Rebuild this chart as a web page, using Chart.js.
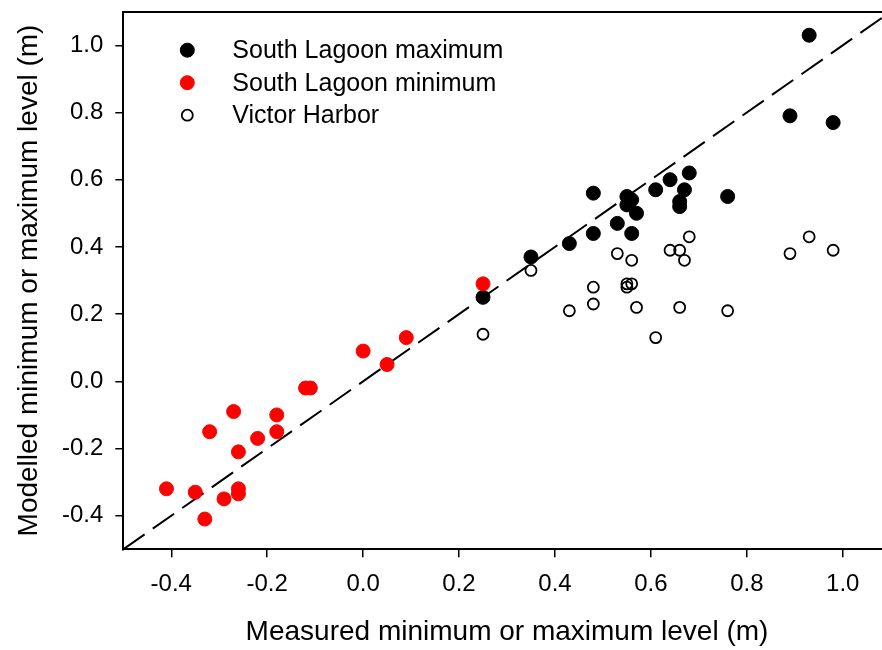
<!DOCTYPE html>
<html><head><meta charset="utf-8">
<script src="https://cdn.jsdelivr.net/npm/chart.js@4"></script>
<style>
html,body{margin:0;padding:0;overflow:hidden;background:#fff;width:882px;height:650px}
#wrap{position:absolute;left:0;top:0;width:900px;height:650px}
</style></head>
<body><div id="wrap"><canvas id="c"></canvas></div>
<script>
// Tick labels
const xTicks = [-0.4, -0.2, 0.0, 0.2, 0.4, 0.6, 0.8, 1.0];
const yTicks = [-0.4, -0.2, 0.0, 0.2, 0.4, 0.6, 0.8, 1.0];

// Series labels
const seriesNames = ['South Lagoon maximum', 'South Lagoon minimum', 'Victor Harbor'];

// South Lagoon maximum
const maxMeasured = [0.25,0.35,0.43,0.48,0.48,0.53,0.55,0.55,0.56,0.56,0.57,0.61,0.64,0.66,0.66,0.67,0.68,0.76,0.89,0.93,0.98];
const maxModelled = [0.25,0.37,0.41,0.56,0.44,0.47,0.55,0.525,0.54,0.44,0.50,0.57,0.60,0.535,0.52,0.57,0.62,0.55,0.79,1.03,0.77];

// South Lagoon minimum
const minMeasured = [-0.41,-0.35,-0.33,-0.32,-0.29,-0.27,-0.26,-0.26,-0.26,-0.22,-0.18,-0.18,-0.12,-0.11,0.00,0.05,0.09,0.25];
const minModelled = [-0.32,-0.33,-0.41,-0.15,-0.35,-0.09,-0.21,-0.32,-0.335,-0.17,-0.10,-0.15,-0.02,-0.02,0.09,0.05,0.13,0.29];

// Victor Harbor
const vhMeasured = [0.25,0.35,0.43,0.48,0.48,0.53,0.55,0.55,0.56,0.56,0.57,0.61,0.64,0.66,0.66,0.67,0.68,0.76,0.89,0.93,0.98];
const vhModelled = [0.14,0.33,0.21,0.28,0.23,0.38,0.29,0.28,0.29,0.36,0.22,0.13,0.39,0.39,0.22,0.36,0.43,0.21,0.38,0.43,0.39];

// 1:1 reference line
const oneToOne = [-0.5, 1.1];

const FONT = '"Liberation Sans", Arial, sans-serif';
const pts = (xs, ys) => xs.map((x, i) => ({x: x, y: ys[i]}));

const insideLegend = {
  id: 'insideLegend',
  afterDraw(chart) {
    const {ctx, chartArea: a} = chart;
    ctx.save();
    ctx.font = '25px ' + FONT;
    ctx.textBaseline = 'middle';
    ctx.textAlign = 'left';
    let row = 0;
    chart.data.datasets.forEach(ds => {
      if (!ds.inLegend) return;
      const cx = a.left + 64, cy = a.top + 38.5 + row * 32.5;
      ctx.beginPath();
      ctx.arc(cx, cy, ds.pointRadius, 0, Math.PI * 2);
      ctx.fillStyle = ds.backgroundColor;
      ctx.fill();
      ctx.lineWidth = ds.borderWidth;
      ctx.strokeStyle = ds.borderColor;
      ctx.stroke();
      ctx.fillStyle = '#000';
      ctx.fillText(ds.label, a.left + 109, cy + 1);
      row++;
    });
    ctx.restore();
  }
};

const frame = {
  id: 'frame',
  afterDraw(chart) {
    const {ctx, chartArea: a} = chart;
    ctx.save();
    ctx.strokeStyle = '#000';
    ctx.lineWidth = 2;
    ctx.beginPath();
    ctx.moveTo(a.left - 1, Math.round(a.top));
    ctx.lineTo(a.right + 1, Math.round(a.top));
    ctx.stroke();
    ctx.restore();
  }
};

new Chart(document.getElementById('c'), {
  type: 'scatter',
  data: {
    datasets: [
      {label: seriesNames[0], data: pts(maxMeasured, maxModelled), inLegend: true, order: 3,
       backgroundColor: '#000000', borderColor: '#000000', borderWidth: 1, pointRadius: 7},
      {label: seriesNames[1], data: pts(minMeasured, minModelled), inLegend: true, order: 1,
       backgroundColor: '#ff0000', borderColor: '#ff0000', borderWidth: 1, pointRadius: 7},
      {label: seriesNames[2], data: pts(vhMeasured, vhModelled), inLegend: true, order: 2,
       backgroundColor: 'rgba(255,255,255,0)', borderColor: '#000000', borderWidth: 1.8, pointRadius: 5.5},
      {label: '1:1', data: pts(oneToOne, oneToOne), order: 4, showLine: true, pointRadius: 0,
       borderColor: '#000000', borderWidth: 2, borderDash: [26, 10], backgroundColor: '#000000'}
    ]
  },
  options: {
    responsive: true,
    maintainAspectRatio: false,
    animation: false,
    events: [],
    layout: {padding: {top: 11.7, right: 9.3, bottom: 0, left: 0}},
    plugins: {legend: {display: false}, tooltip: {enabled: false}},
    scales: {
      x: {
        type: 'linear', position: 'bottom', min: -0.5, max: 1.1,
        afterBuildTicks: s => { s.ticks = xTicks.map(v => ({value: v})); },
        afterFit: s => { s.height = 100.7; s.paddingLeft = 0; s.paddingRight = 0; },
        grid: {drawOnChartArea: false, drawTicks: true, tickLength: 8, color: '#000', lineWidth: 1.5},
        border: {display: true, color: '#000', width: 2},
        ticks: {color: '#000', font: {family: FONT, size: 24}, padding: 13, maxRotation: 0, autoSkip: false,
                callback: v => v.toFixed(1)},
        title: {display: true, text: 'Measured minimum or maximum level (m)', color: '#000',
                font: {family: FONT, size: 28, lineHeight: 1.2}, padding: {top: 0, bottom: 1}}
      },
      y: {
        type: 'linear', position: 'left', min: -0.5, max: 1.1,
        afterBuildTicks: s => { s.ticks = yTicks.map(v => ({value: v})); },
        afterFit: s => { s.width = 123.3; s.paddingTop = 0; s.paddingBottom = 0; },
        grid: {drawOnChartArea: false, drawTicks: true, tickLength: 8, color: '#000', lineWidth: 1.5},
        border: {display: true, color: '#000', width: 2},
        ticks: {color: '#000', font: {family: FONT, size: 24}, padding: 12, autoSkip: false,
                callback: v => v.toFixed(1)},
        title: {display: true, text: 'Modelled minimum or maximum level (m)', color: '#000',
                font: {family: FONT, size: 28, lineHeight: 1.2}, padding: {top: 12, bottom: 0}}
      }
    }
  },
  plugins: [frame, insideLegend]
});
</script></body></html>
